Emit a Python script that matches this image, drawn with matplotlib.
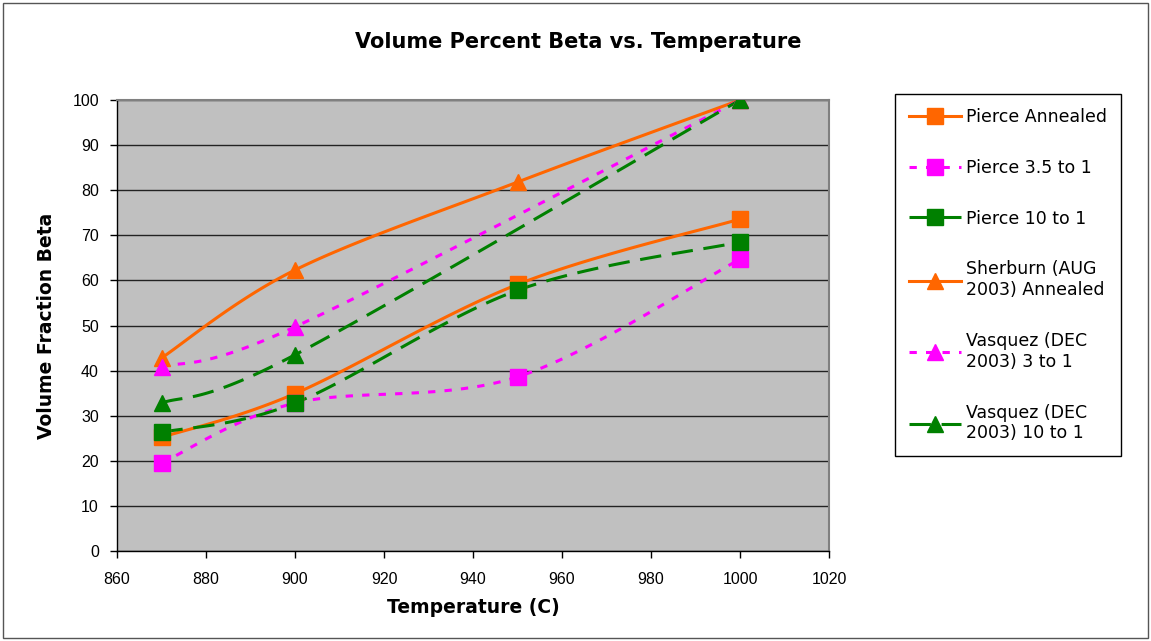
import numpy as np
import matplotlib
matplotlib.use("Agg")
import matplotlib.pyplot as plt
from matplotlib.patches import Rectangle

# data
temps = [870, 900, 950, 1000]
pierce_annealed = [25.2, 34.9, 59.1, 73.6]
pierce_35 = [19.5, 32.8, 38.6, 64.7]
pierce_10 = [26.3, 32.8, 57.8, 68.5]
sherburn = [42.8, 62.3, 81.8, 100.0]

vasquez_temps = [870, 900, 1000]
vasquez_3 = [40.8, 49.7, 100.0]
vasquez_10 = [32.8, 43.5, 100.0]

labels = ["Pierce Annealed", "Pierce 3.5 to 1", "Pierce 10 to 1",
          "Sherburn (AUG\n2003) Annealed", "Vasquez (DEC\n2003) 3 to 1",
          "Vasquez (DEC\n2003) 10 to 1"]

orange = "#FF6600"
magenta = "#FF00FF"
green = "#008000"


def smooth(x, y, n=40):
    # excel style smoothed line (bezier through the points)
    x = np.asarray(x, float)
    y = np.asarray(y, float)
    px = np.concatenate([[x[0]], x, [x[-1]]])
    py = np.concatenate([[y[0]], y, [y[-1]]])
    xs, ys = [], []
    t = np.linspace(0, 1, n)
    for i in range(1, len(px) - 2):
        p0 = np.array([px[i], py[i]])
        p3 = np.array([px[i + 1], py[i + 1]])
        c1 = p0 + (np.array([px[i + 1], py[i + 1]]) - np.array([px[i - 1], py[i - 1]])) / 6
        c2 = p3 - (np.array([px[i + 2], py[i + 2]]) - np.array([px[i], py[i]])) / 6
        b = (((1 - t) ** 3)[:, None] * p0 + (3 * (1 - t) ** 2 * t)[:, None] * c1
             + (3 * (1 - t) * t ** 2)[:, None] * c2 + (t ** 3)[:, None] * p3)
        xs.extend(b[:, 0])
        ys.extend(b[:, 1])
    return xs, ys


fig = plt.figure(figsize=(11.51, 6.41), dpi=100)
ax = fig.add_axes([117 / 1151, 90 / 641, (829 - 117) / 1151, (551 - 100) / 641])
ax.set_facecolor("#C0C0C0")

series = [
    (temps, pierce_annealed, orange, "-", "s", 12),
    (temps, pierce_35, magenta, (0, (2.4, 3.0)), "s", 12),
    (temps, pierce_10, green, (0, (7, 3.5)), "s", 12),
    (temps, sherburn, orange, "-", "^", 11),
    (vasquez_temps, vasquez_3, magenta, (0, (2.4, 3.0)), "^", 11),
    (vasquez_temps, vasquez_10, green, (0, (7, 3.5)), "^", 11),
]

handles = []
for i, (xx, yy, c, ls, mk, ms) in enumerate(series):
    sx, sy = smooth(xx, yy)
    ax.plot(sx, sy, color=c, linestyle=ls, lw=2.2, zorder=3 + i * 0.1)
    ax.plot(xx, yy, linestyle="none", marker=mk, markersize=ms, color=c,
            markeredgecolor=c, zorder=4 + i * 0.1)
    h, = plt.plot([], [], color=c, linestyle=ls, lw=2.2, marker=mk,
                  markersize=ms, markeredgecolor=c)
    handles.append(h)

ax.set_xlim(860, 1020)
ax.set_ylim(0, 100)
ax.set_xticks(range(860, 1021, 20))
ax.set_yticks(range(0, 101, 10))
ax.yaxis.grid(True, color="#222222", lw=1.0)
ax.set_axisbelow(True)

for s in ["top", "right"]:
    ax.spines[s].set_color("#808080")
    ax.spines[s].set_linewidth(1.5)
for s in ["left", "bottom"]:
    ax.spines[s].set_color("black")
    ax.spines[s].set_linewidth(1.0)

ax.tick_params(axis="both", direction="out", length=5, width=1, color="black",
               labelsize=11.5)
ax.tick_params(axis="y", pad=8)
ax.tick_params(axis="x", pad=10)
for lab in ax.get_xticklabels() + ax.get_yticklabels():
    lab.set_fontfamily("Liberation Sans")

ax.set_xlabel("Temperature (C)", fontsize=13.5, fontweight="bold", labelpad=8)
ax.set_ylabel("Volume Fraction Beta", fontsize=13.5, fontweight="bold", labelpad=12)

fig.text(0.5025, 1 - 42 / 641, "Volume Percent Beta vs. Temperature",
         fontsize=15, fontweight="bold", ha="center", va="center")

leg = fig.legend(handles, labels, loc="upper left",
                 bbox_to_anchor=(895 / 1151, 1 - 94 / 641), borderaxespad=0,
                 fontsize=12.5, labelspacing=1.89, handlelength=3.0,
                 handletextpad=0.3, borderpad=0.8, frameon=True,
                 fancybox=False, edgecolor="black", framealpha=1)
leg.get_frame().set_linewidth(1.0)

fig.patches.append(Rectangle((3 / 1151, 3 / 641), 1145 / 1151, 635 / 641,
                             transform=fig.transFigure, fill=False,
                             edgecolor="#555555", lw=1.0))

fig.savefig("out.png", dpi=100)
